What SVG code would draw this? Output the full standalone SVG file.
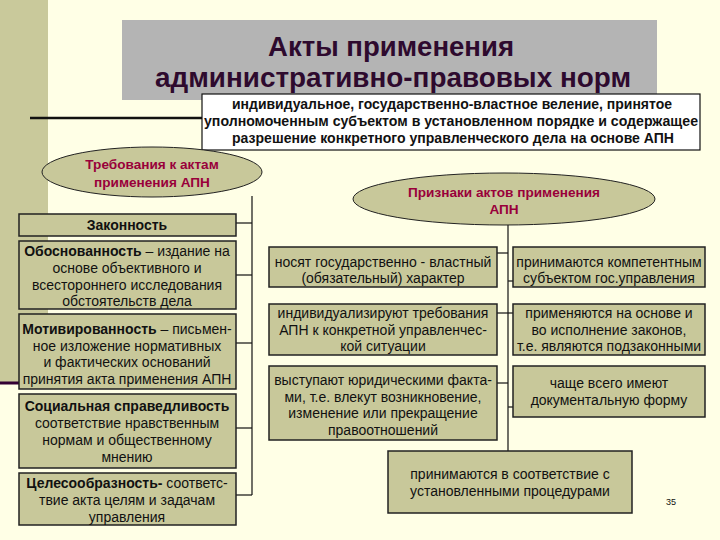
<svg xmlns="http://www.w3.org/2000/svg" width="720" height="540" viewBox="0 0 720 540">
<style>
.box{fill:#C8C89A;stroke:#222;stroke-width:1.5}
.ell{fill:#C8C89A;stroke:#222;stroke-width:1}
.t{font-family:"Liberation Sans",Arial,sans-serif;font-size:14px;fill:#111;text-anchor:middle}
.b{font-weight:bold}
.et{font-family:"Liberation Sans",Arial,sans-serif;font-size:13.6px;font-weight:bold;fill:#99003A;text-anchor:middle}
.ln{stroke:#111;stroke-width:1.2;fill:none}
</style>
<rect x="0" y="0" width="720" height="540" fill="#FFFFE6"/>
<rect x="0" y="0" width="48" height="383" fill="#C9C99B"/>
<line x1="0" y1="383" x2="48" y2="383" stroke="#330033" stroke-width="3"/>
<line x1="30" y1="118" x2="205" y2="118" stroke="#111" stroke-width="2.5"/>
<g id="title">
<rect x="122" y="20" width="535" height="80" fill="#B4B4B4"/>
<text x="391" y="56" font-family="Liberation Sans,Arial,sans-serif" font-size="27" font-weight="bold" fill="#2E0A2E" text-anchor="middle" textLength="246" lengthAdjust="spacingAndGlyphs">Акты применения</text>
<text x="393" y="87" font-family="Liberation Sans,Arial,sans-serif" font-size="27" font-weight="bold" fill="#2E0A2E" text-anchor="middle" textLength="476" lengthAdjust="spacingAndGlyphs">административно-правовых норм</text>
</g>
<g id="definition">
<rect x="202" y="94" width="498" height="56" fill="#FFFFFF" stroke="#111" stroke-width="1.2"/>
<text class="t b" x="452" y="109" font-size="13" textLength="440" lengthAdjust="spacingAndGlyphs">индивидуальное, государственно-властное веление, принятое</text>
<text class="t b" x="451" y="126" font-size="13" textLength="494" lengthAdjust="spacingAndGlyphs">уполномоченным субъектом в установленном порядке и содержащее</text>
<text class="t b" x="453" y="143" font-size="13" textLength="442" lengthAdjust="spacingAndGlyphs">разрешение конкретного управленческого дела на основе АПН</text>
</g>
<g id="connectors">
<line class="ln" x1="252" y1="196" x2="252" y2="495"/>
<line class="ln" x1="236" y1="223" x2="252" y2="223"/>
<line class="ln" x1="236" y1="275" x2="252" y2="275"/>
<line class="ln" x1="236" y1="343" x2="252" y2="343"/>
<line class="ln" x1="236" y1="428" x2="252" y2="428"/>
<line class="ln" x1="236" y1="495" x2="252" y2="495"/>
<line class="ln" x1="508" y1="225" x2="508" y2="451"/>
<line class="ln" x1="497" y1="253" x2="508" y2="253"/>
<line class="ln" x1="508" y1="281" x2="513" y2="281"/>
<line class="ln" x1="497" y1="313" x2="513" y2="313"/>
<line class="ln" x1="497" y1="383" x2="508" y2="383"/>
<line class="ln" x1="508" y1="407" x2="513" y2="407"/>
</g>
<g id="req-ellipse">
<ellipse class="ell" cx="152" cy="172" rx="110" ry="25"/>
<text class="et" x="152" y="169">Требования к актам</text>
<text class="et" x="152" y="187">применения АПН</text>
</g>
<g id="zakonnost">
<rect class="box" x="19" y="214" width="217" height="22"/>
<text class="t b" x="127" y="230">Законность</text>
</g>
<g id="obosnovannost">
<rect class="box" x="19" y="241" width="217" height="68"/>
<text class="t" x="127" y="256"><tspan class="b">Обоснованность</tspan> – издание на</text>
<text class="t" x="127" y="273">основе объективного и</text>
<text class="t" x="127" y="290">всестороннего исследования</text>
<text class="t" x="127" y="306">обстоятельств дела</text>
</g>
<g id="motivirovannost">
<rect class="box" x="19" y="314" width="217" height="75"/>
<text class="t" x="127" y="334"><tspan class="b">Мотивированность</tspan> – письмен-</text>
<text class="t" x="127" y="351">ное изложение нормативных</text>
<text class="t" x="127" y="367">и фактических оснований</text>
<text class="t" x="127" y="384">принятия акта применения АПН</text>
</g>
<g id="spravedlivost">
<rect class="box" x="19" y="394" width="217" height="74"/>
<text class="t b" x="127" y="411">Социальная справедливость</text>
<text class="t" x="127" y="428">соответствие нравственным</text>
<text class="t" x="127" y="445">нормам и общественному</text>
<text class="t" x="127" y="462">мнению</text>
</g>
<g id="celesoobraznost">
<rect class="box" x="19" y="473" width="217" height="52"/>
<text class="t" x="127" y="488"><tspan class="b">Целесообразность-</tspan> соответс-</text>
<text class="t" x="127" y="505">твие акта целям и задачам</text>
<text class="t" x="127" y="522">управления</text>
</g>
<g id="sign-ellipse">
<ellipse class="ell" cx="504" cy="199" rx="151" ry="26"/>
<text class="et" x="504" y="197">Признаки актов применения</text>
<text class="et" x="504" y="214">АПН</text>
</g>
<g id="sign-a">
<rect class="box" x="269" y="247" width="228" height="40"/>
<text class="t" x="383" y="267">носят государственно - властный</text>
<text class="t" x="383" y="283">(обязательный) характер</text>
</g>
<g id="sign-b">
<rect class="box" x="513" y="247" width="192" height="40"/>
<text class="t" x="609" y="267">принимаются компетентным</text>
<text class="t" x="609" y="283">субъектом гос.управления</text>
</g>
<g id="sign-c">
<rect class="box" x="269" y="304" width="228" height="51"/>
<text class="t" x="383" y="318">индивидуализируют требования</text>
<text class="t" x="383" y="335">АПН к конкретной управленчес-</text>
<text class="t" x="383" y="351">кой ситуации</text>
</g>
<g id="sign-d">
<rect class="box" x="513" y="304" width="192" height="51"/>
<text class="t" x="609" y="318">применяются на основе и</text>
<text class="t" x="609" y="335">во исполнение законов,</text>
<text class="t" x="609" y="351">т.е. являются подзаконными</text>
</g>
<g id="sign-e">
<rect class="box" x="269" y="366" width="228" height="74"/>
<text class="t" x="383" y="385">выступают юридическими факта-</text>
<text class="t" x="383" y="402">ми, т.е. влекут возникновение,</text>
<text class="t" x="383" y="418">изменение или прекращение</text>
<text class="t" x="383" y="435">правоотношений</text>
</g>
<g id="sign-f">
<rect class="box" x="513" y="366" width="192" height="51"/>
<text class="t" x="609" y="388">чаще всего имеют</text>
<text class="t" x="609" y="405">документальную форму</text>
</g>
<g id="sign-g">
<rect class="box" x="388" y="451" width="244" height="62"/>
<text class="t" x="510" y="479">принимаются в соответствие с</text>
<text class="t" x="510" y="496">установленными процедурами</text>
</g>
<text x="671" y="505" font-family="Liberation Sans,Arial,sans-serif" font-size="9" fill="#111" text-anchor="middle">35</text>
</svg>
